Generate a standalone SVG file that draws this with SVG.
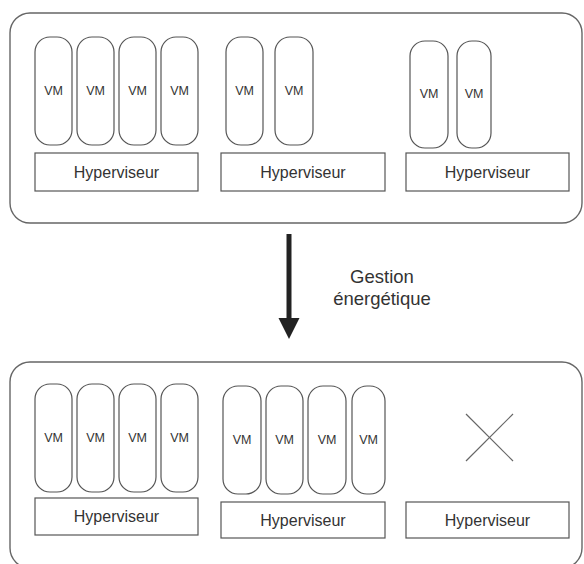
<svg xmlns="http://www.w3.org/2000/svg" width="584" height="564" viewBox="0 0 584 564">
<style>
.outer{fill:#fff;stroke:#666;stroke-width:1.4}
.vm{fill:#fff;stroke:#555;stroke-width:1.2}
.hv{fill:#fff;stroke:#555;stroke-width:1.2}
text{font-family:"Liberation Sans",Arial,sans-serif;fill:#333;text-anchor:middle}
.vt{font-size:12.5px}
.ht{font-size:16px}
.lt{font-size:18.5px}
</style>
<rect width="584" height="564" fill="#fff"/>
<g id="serveurs-avant">
<rect class="outer" x="10" y="13" width="572" height="210" rx="20"/>
<g id="hote1-avant">
<rect class="vm" x="35" y="37" width="37" height="108" rx="15"/><text class="vt" x="53.5" y="95">VM</text>
<rect class="vm" x="77" y="37" width="37" height="108" rx="15"/><text class="vt" x="95.5" y="95">VM</text>
<rect class="vm" x="119" y="37" width="37" height="108" rx="15"/><text class="vt" x="137.5" y="95">VM</text>
<rect class="vm" x="161" y="37" width="37" height="108" rx="15"/><text class="vt" x="179.5" y="95">VM</text>
<rect class="hv" x="35" y="153" width="163" height="38"/><text class="ht" x="116.5" y="178">Hyperviseur</text>
</g>
<g id="hote2-avant">
<rect class="vm" x="226" y="37" width="37" height="108" rx="15"/><text class="vt" x="244.5" y="95">VM</text>
<rect class="vm" x="275" y="37" width="38" height="108" rx="15"/><text class="vt" x="294" y="95">VM</text>
<rect class="hv" x="221" y="153" width="164" height="38"/><text class="ht" x="303" y="178">Hyperviseur</text>
</g>
<g id="hote3-avant">
<rect class="vm" x="410" y="41" width="38" height="107" rx="15"/><text class="vt" x="429" y="98">VM</text>
<rect class="vm" x="457" y="41" width="34" height="107" rx="15"/><text class="vt" x="474" y="98">VM</text>
<rect class="hv" x="406" y="153" width="163" height="38"/><text class="ht" x="487.5" y="178">Hyperviseur</text>
</g>
</g>
<g id="connecteurs">
<line x1="289" y1="234" x2="289" y2="320" stroke="#222" stroke-width="5"/>
<polygon points="278.5,318 299.5,318 289,339" fill="#222"/>
</g>
<g id="label-gestion">
<text class="lt" x="382" y="283">Gestion</text>
<text class="lt" x="382" y="305">énergétique</text>
</g>
<g id="serveurs-apres">
<rect class="outer" x="10" y="362" width="572" height="206" rx="20"/>
<g id="hote1-apres">
<rect class="vm" x="35" y="384" width="37" height="108" rx="15"/><text class="vt" x="53.5" y="442">VM</text>
<rect class="vm" x="77" y="384" width="37" height="108" rx="15"/><text class="vt" x="95.5" y="442">VM</text>
<rect class="vm" x="119" y="384" width="37" height="108" rx="15"/><text class="vt" x="137.5" y="442">VM</text>
<rect class="vm" x="161" y="384" width="37" height="108" rx="15"/><text class="vt" x="179.5" y="442">VM</text>
<rect class="hv" x="35" y="498" width="163" height="37"/><text class="ht" x="116.5" y="522">Hyperviseur</text>
</g>
<g id="hote2-apres">
<rect class="vm" x="223" y="386" width="38" height="108" rx="15"/><text class="vt" x="242" y="444">VM</text>
<rect class="vm" x="266" y="386" width="37" height="108" rx="15"/><text class="vt" x="284.5" y="444">VM</text>
<rect class="vm" x="308" y="386" width="38" height="108" rx="15"/><text class="vt" x="327" y="444">VM</text>
<rect class="vm" x="352" y="386" width="33" height="108" rx="15"/><text class="vt" x="368.5" y="444">VM</text>
<rect class="hv" x="221" y="502" width="164" height="36"/><text class="ht" x="303" y="526">Hyperviseur</text>
</g>
<g id="hote3-apres">
<line x1="466" y1="414" x2="513" y2="461" stroke="#666" stroke-width="1.2"/>
<line x1="513" y1="414" x2="466" y2="461" stroke="#666" stroke-width="1.2"/>
<rect class="hv" x="406" y="502" width="163" height="36"/><text class="ht" x="487.5" y="526">Hyperviseur</text>
</g>
</g>
</svg>
